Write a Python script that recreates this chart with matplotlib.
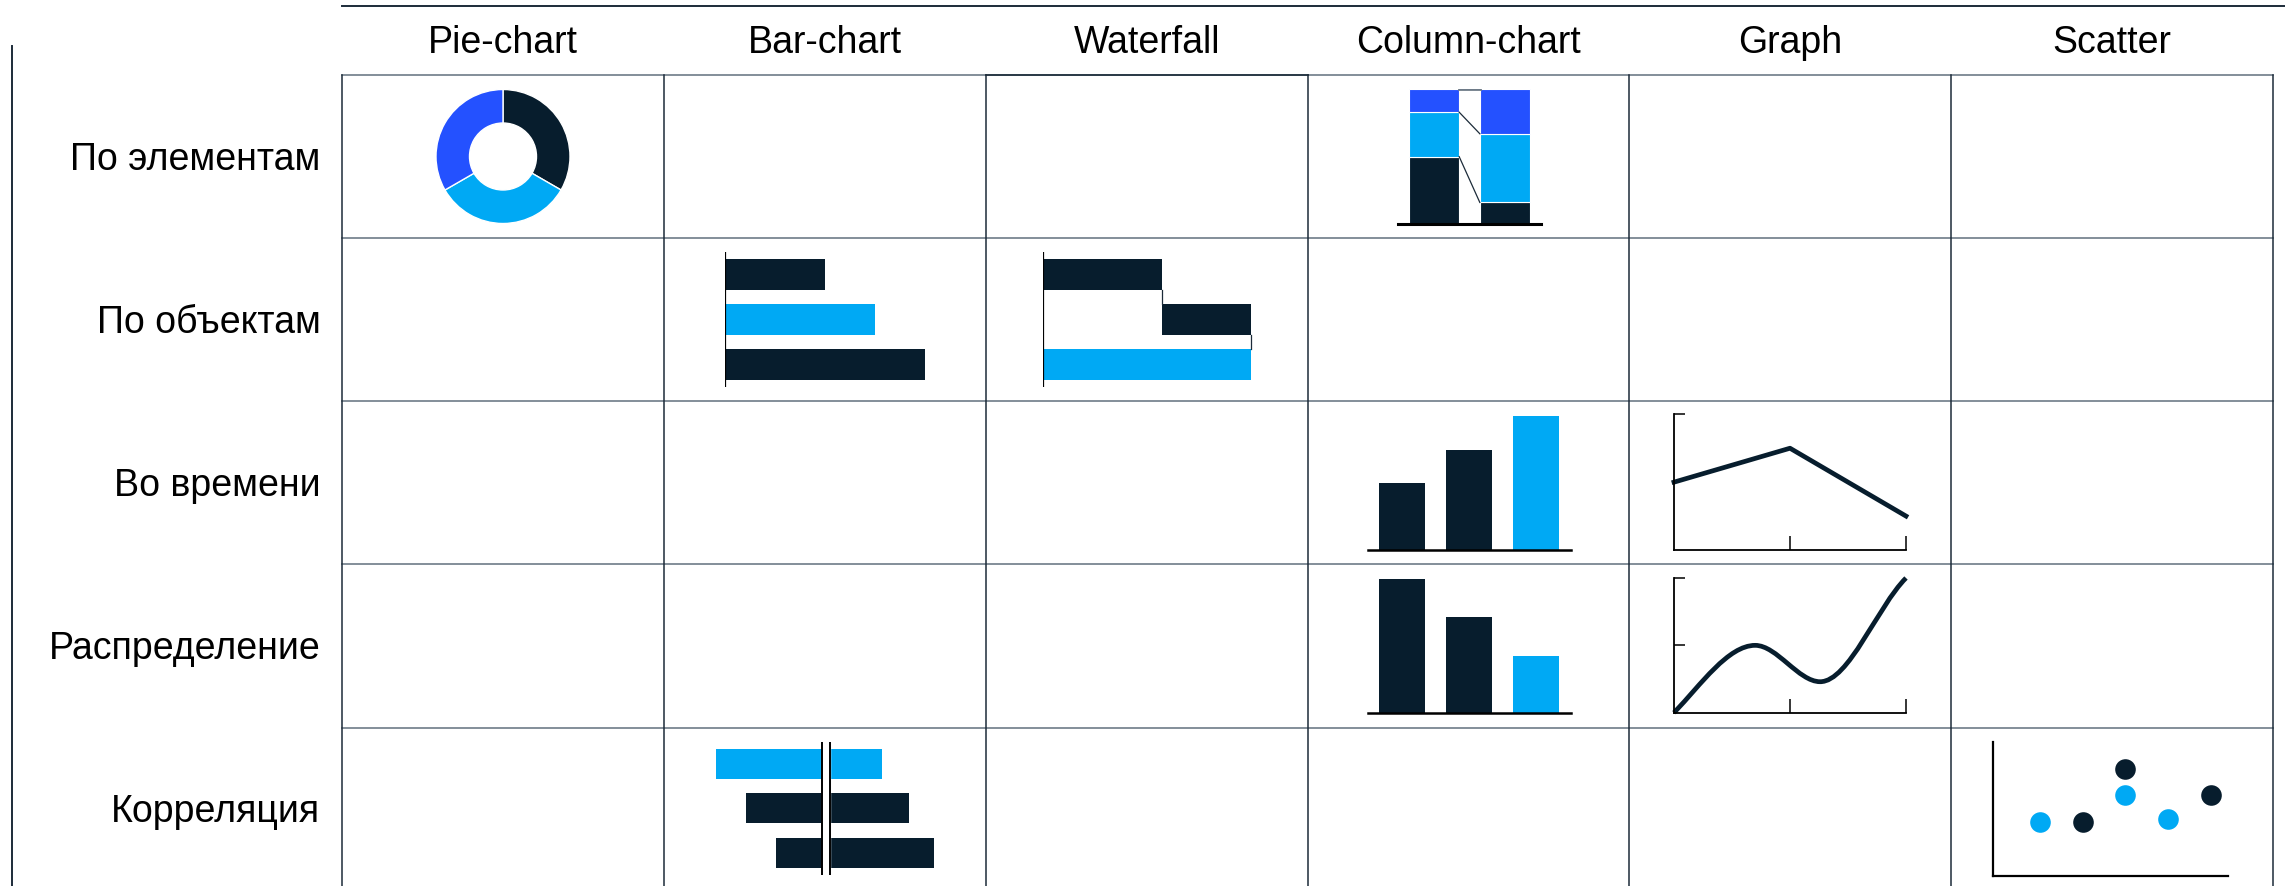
import numpy as np
import matplotlib.pyplot as plt
from matplotlib.path import Path
from matplotlib.patches import PathPatch

plt.rcParams['font.family'] = ['Liberation Sans', 'DejaVu Sans']

W, H = 2285, 886

DARK = '#071d2d'
LIGHT = '#00a9f4'
ROYAL = '#2451ff'
GRID = '#6e7b88'
EDGE = '#1c2b39'

# ----- table labels -----
columns = ['Pie-chart', 'Bar-chart', 'Waterfall', 'Column-chart', 'Graph', 'Scatter']
rows = ['По элементам', 'По объектам', 'Во времени', 'Распределение', 'Корреляция']

# ----- mini chart data -----
pie_shares = [1, 1, 1]
stack_left = [50, 33, 17]
stack_right = [16, 51, 33]
bar_values = [2, 3, 4]
waterfall_steps = [4, 3]
columns_time = [2, 3, 4]
columns_dist = [7, 5, 3]
line_x = [0, 1, 2]
line_y = [2, 3, 1]
curve_x = [0, 0.7, 1.26, 2.0]
curve_y = [0, 0.5, 0.23, 1.0]
curve_slope = [0.9, 0, 0, 0.86]
div_left = [-11, -8, -5]
div_right = [5.6, 8.3, 10.8]
scatter_light_x = [1, 3, 4]
scatter_light_y = [4, 6, 4.2]
scatter_dark_x = [2, 3, 5]
scatter_dark_y = [4, 8, 6]

# grid geometry (pixels)
col_edges = [342, 664, 986, 1308, 1629, 1951, 2273]
row_edges = [74.5, 238, 401, 564, 727.5, 886]

fig = plt.figure(figsize=(W / 100, H / 100), dpi=100)
base = fig.add_axes([0, 0, 1, 1])
base.set_xlim(0, W)
base.set_ylim(H, 0)
base.axis('off')


def cell_ax(x0, y0, x1, y1, off=True):
    ax = fig.add_axes([x0 / W, 1 - y1 / H, (x1 - x0) / W, (y1 - y0) / H])
    ax.patch.set_alpha(0)
    if off:
        ax.axis('off')
    return ax


def l_axes(ax):
    for s in ['top', 'right']:
        ax.spines[s].set_visible(False)
    for s in ['left', 'bottom']:
        ax.spines[s].set_color('black')
        ax.spines[s].set_linewidth(1.3)


# ===================== GRID AND LABELS ===================== #
base.plot([col_edges[0], W], [6, 6], color=EDGE, lw=1.4)
base.plot([12.3, 12.3], [46, H], color=EDGE, lw=1.4)
for y in row_edges[:-1]:
    base.plot([col_edges[0], col_edges[-1]], [y, y], color=GRID, lw=1.2)
for x in col_edges:
    base.plot([x, x], [row_edges[0], H], color=EDGE, lw=1.1)
base.plot([col_edges[2], col_edges[3]], [row_edges[0], row_edges[0]], color=EDGE, lw=1.2)

for i, name in enumerate(columns):
    cx = (col_edges[i] + col_edges[i + 1]) / 2
    base.text(cx, 53, name, ha='center', va='baseline', fontsize=27)
for j, name in enumerate(rows):
    cy = (row_edges[j] + row_edges[j + 1]) / 2
    if j == len(rows) - 1:
        cy = 808
    base.text(320.5, cy + 13.5, name, ha='right', va='baseline', fontsize=27)

# ===================== PIE ===================== #
ax = cell_ax(436, 89.5, 570, 223.5)
ax.pie(pie_shares, colors=[DARK, LIGHT, ROYAL], startangle=90, counterclock=False,
       radius=1, wedgeprops=dict(width=0.5, edgecolor='white', linewidth=1))
ax.set_xlim(-1, 1)
ax.set_ylim(-1, 1)

# ===================== 100% STACKED COLUMNS ===================== #
ax = cell_ax(1398, 89.3, 1541, 224)
bw = 0.71
stack_colors = [DARK, LIGHT, ROYAL]
for pos, vals in [(0, stack_left), (1, stack_right)]:
    bottoms = np.concatenate([[0], np.cumsum(vals)[:-1]])
    ax.bar([pos] * 3, vals, bottom=bottoms, width=bw, color=stack_colors,
           edgecolor='white', linewidth=0.8)
lv_l = np.cumsum(stack_left)
lv_r = np.cumsum(stack_right)
for a, b, c in zip(lv_l, lv_r, [EDGE, EDGE, GRID]):
    ax.plot([bw / 2, 1 - bw / 2], [a, b], color=c, lw=0.9 if c == EDGE else 2)
ax.axhline(0, color='black', lw=2.2, clip_on=False)
ax.set_xlim(-0.505, 1.505)
ax.set_ylim(0, 100)

# ===================== BAR CHART ===================== #
ax = cell_ax(724.5, 252, 949.5, 387)
ax.barh(range(3), bar_values, height=0.667, color=[DARK, LIGHT, DARK])
ax.axvline(0, color='black', lw=1.6)
ax.set_xlim(0, 4.5)
ax.set_ylim(2.5, -0.5)

# ===================== WATERFALL ===================== #
ax = cell_ax(1042.7, 252, 1282, 387)
h = 0.667
total = sum(waterfall_steps)
ax.barh(0, waterfall_steps[0], left=0, height=h, color=DARK)
ax.barh(1, waterfall_steps[1], left=waterfall_steps[0], height=h, color=DARK)
ax.barh(2, total, left=0, height=h, color=LIGHT)
ax.plot([waterfall_steps[0]] * 2, [h / 2, 1 - h / 2], color=EDGE, lw=0.9)
ax.plot([total] * 2, [1 + h / 2, 2 - h / 2], color=EDGE, lw=0.9)
ax.axvline(0, color='black', lw=1.6)
ax.set_xlim(0, 239.3 / 29.8)
ax.set_ylim(2.5, -0.5)

# ===================== COLUMN CHARTS ===================== #
for vals, top, bottom, unit in [(columns_time, 410, 550, 33.5),
                                (columns_dist, 572.7, 712.7, 19.05)]:
    ax = cell_ax(1368, top, 1570.5, bottom)
    ax.bar(range(3), vals, width=0.687, color=[DARK, DARK, LIGHT])
    ax.axhline(0, color='black', lw=1.8, clip_on=False)
    ax.set_xlim(-0.507, 2.515)
    ax.set_ylim(0, (bottom - top) / unit)

# ===================== LINE GRAPH ===================== #
ax = cell_ax(1674, 414.3, 1906, 550, off=False)
l_axes(ax)
ax.plot(line_x, line_y, color=DARK, lw=3.4, clip_on=False)
ax.set_xlim(0, 2)
ax.set_ylim(0, 4)
ax.set_xticks([1, 2])
ax.set_yticks([4])
ax.tick_params(axis='x', direction='in', length=10, width=1.1, labelbottom=False)
ax.tick_params(axis='y', direction='in', length=8, width=1.1, labelleft=False)

# ===================== SMOOTH CURVE ===================== #
ax = cell_ax(1674, 578, 1906, 712.7, off=False)
l_axes(ax)
verts = [(curve_x[0], curve_y[0])]
codes = [Path.MOVETO]
for k in range(len(curve_x) - 1):
    x0, y0, m0 = curve_x[k], curve_y[k], curve_slope[k]
    x1, y1, m1 = curve_x[k + 1], curve_y[k + 1], curve_slope[k + 1]
    d = (x1 - x0) / 3
    verts += [(x0 + d, y0 + m0 * d), (x1 - d, y1 - m1 * d), (x1, y1)]
    codes += [Path.CURVE4] * 3
ax.add_patch(PathPatch(Path(verts, codes), facecolor='none', edgecolor=DARK,
                       lw=3.4, clip_on=False))
ax.set_xlim(0, 2)
ax.set_ylim(0, 1)
ax.set_xticks([1, 2])
ax.set_yticks([0.5, 1])
ax.tick_params(axis='x', direction='in', length=10, width=1.1, labelbottom=False)
ax.tick_params(axis='y', direction='in', length=8, width=1.1, labelleft=False)

# ===================== DIVERGING BARS ===================== #
ax = cell_ax(706, 741.7, 946, 875)
div_colors = [LIGHT, DARK, DARK]
ax.barh(range(3), div_left, height=0.67, color=div_colors)
ax.barh(range(3), div_right, height=0.67, color=div_colors)
ax.axvspan(-0.43, 0.4, color='white')
ax.axvline(-0.43, color='black', lw=1.4)
ax.axvline(0.4, color='black', lw=1.4)
ax.set_xlim(-12, 12)
ax.set_ylim(2.5, -0.5)

# ===================== SCATTER ===================== #
ax = cell_ax(1992.7, 741.7, 2228.3, 875.7, off=False)
l_axes(ax)
ax.spines['left'].set_linewidth(1.6)
ax.spines['bottom'].set_linewidth(1.6)
ax.scatter(scatter_light_x, scatter_light_y, s=220, color=LIGHT, linewidths=0, clip_on=False)
ax.scatter(scatter_dark_x, scatter_dark_y, s=220, color=DARK, linewidths=0, clip_on=False)
ax.set_xlim(-0.108, 5.41)
ax.set_ylim(0, 10)
ax.set_xticks([])
ax.set_yticks([])

fig.savefig('out.png', dpi=100)
